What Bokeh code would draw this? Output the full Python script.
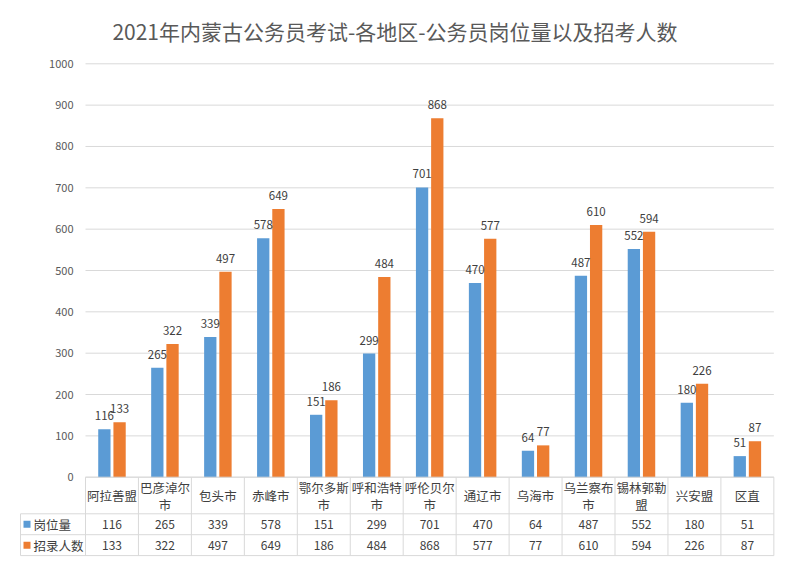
import numpy as np
from bokeh.plotting import figure
from bokeh.models import Range1d, ColumnDataSource
from bokeh.core.properties import value
from bokeh.embed import file_html
from bokeh.resources import INLINE

# ---------------- data ----------------
title_text = "2021年内蒙古公务员考试-各地区-公务员岗位量以及招考人数"
categories = ["阿拉善盟", "巴彦淖尔市", "包头市", "赤峰市", "鄂尔多斯市", "呼和浩特市",
              "呼伦贝尔市", "通辽市", "乌海市", "乌兰察布市", "锡林郭勒盟", "兴安盟", "区直"]
series_names = ["岗位量", "招录人数"]
posts = [116, 265, 339, 578, 151, 299, 701, 470, 64, 487, 552, 180, 51]
applicants = [133, 322, 497, 649, 186, 484, 868, 577, 77, 610, 594, 226, 87]
y_ticks = [0, 100, 200, 300, 400, 500, 600, 700, 800, 900, 1000]
y_tick_labels = [str(t) for t in y_ticks]

# ---------------- layout ----------------
W, H = 781, 557
PX_X = 52.95          # px per category
PX_Y = 0.4134         # px per value unit
X0_PX = 85            # x px of category 0 left edge
Y0_PX = 476.7         # y px of value 0

x_start = -X0_PX / PX_X
x_end = (W - X0_PX) / PX_X
y_end = Y0_PX / PX_Y
y_start = -(H - Y0_PX) / PX_Y

def dy(px):  # pixel distance below zero -> data units
    return -px / PX_Y

def dx(px):  # pixel distance right of category 0 -> data units
    return px / PX_X

BLUE = "#5b9bd5"
ORANGE = "#ed7d31"
GRID = "#d9d9d9"
TXT = "#404040"
CJK = value("Noto Sans CJK SC")

p = figure(width=W, height=H, x_range=Range1d(x_start, x_end), y_range=Range1d(y_start, y_end),
           output_backend="svg", toolbar_location=None, min_border=0,
           x_axis_type=None, y_axis_type=None)
p.grid.visible = False
p.outline_line_color = None
p.background_fill_color = "white"
p.border_fill_color = "white"

n = len(categories)
idx = np.arange(n) + 0.5
ncat = n

# gridlines
p.segment(x0=[0] * len(y_ticks), x1=[ncat] * len(y_ticks), y0=y_ticks, y1=y_ticks,
          line_color=GRID, line_width=1)

# y tick labels
p.text(x=[dx(73 - 85)] * len(y_ticks), y=y_ticks, text=y_tick_labels,
       text_align="right", text_baseline="middle", text_font=CJK,
       text_font_size="11px", text_color="#595959")

# bars
off = dx(7.6)
bw = dx(12.3)
src = ColumnDataSource(dict(xb=idx - off, xo=idx + off, posts=posts, applicants=applicants,
                            pl=[str(v) for v in posts], al=[str(v) for v in applicants]))
p.vbar(x="xb", top="posts", bottom=0, width=bw, source=src, fill_color=BLUE, line_color=None)
p.vbar(x="xo", top="applicants", bottom=0, width=bw, source=src, fill_color=ORANGE, line_color=None)

# data labels
p.text(x="xb", y="posts", text="pl", source=src, text_align="center", text_baseline="middle",
       y_offset=-13.5, text_font=CJK, text_font_size="11.5px", text_color=TXT)
p.text(x="xo", y="applicants", text="al", source=src, text_align="center", text_baseline="middle",
       y_offset=-13.5, text_font=CJK, text_font_size="11.5px", text_color=TXT)

# ---------------- data table ----------------
header_h, row_h = 36.6, 20.9
y_hdr_bot = dy(header_h)
y_r1_bot = dy(header_h + row_h)
y_r2_bot = dy(header_h + 2 * row_h)
x_left = dx(20 - 85)

# horizontal lines
p.segment(x0=[0, x_left, x_left, x_left], x1=[ncat] * 4,
          y0=[0, y_hdr_bot, y_r1_bot, y_r2_bot], y1=[0, y_hdr_bot, y_r1_bot, y_r2_bot],
          line_color=GRID, line_width=1)
# vertical lines
vx = list(range(ncat + 1))
p.segment(x0=vx, x1=vx, y0=[0] * len(vx), y1=[y_r2_bot] * len(vx), line_color=GRID, line_width=1)
p.segment(x0=[x_left], x1=[x_left], y0=[y_hdr_bot], y1=[y_r2_bot], line_color=GRID, line_width=1)

# header labels (wrap after 4 characters like the cell width)
hx, hy, ht = [], [], []
for i, c in enumerate(categories):
    if len(c) > 4:
        hx += [idx[i], idx[i]]
        hy += [dy(10.5), dy(27)]
        ht += [c[:4], c[4:]]
    else:
        hx.append(idx[i])
        hy.append(dy(18.5))
        ht.append(c)
p.text(x=hx, y=hy, text=ht, text_align="center", text_baseline="middle",
       text_font=CJK, text_font_size="12.5px", text_color=TXT)

# row values
r1y = dy(header_h + row_h / 2)
r2y = dy(header_h + row_h * 1.5)
p.text(x=idx, y=[r1y] * n, text=[str(v) for v in posts], text_align="center",
       text_baseline="middle", text_font=CJK, text_font_size="12px", text_color=TXT)
p.text(x=idx, y=[r2y] * n, text=[str(v) for v in applicants], text_align="center",
       text_baseline="middle", text_font=CJK, text_font_size="12px", text_color=TXT)

# row legend keys and names
p.scatter(x=[dx(26.5 - 85)] * 2, y=[r1y, r2y], marker="square", size=7,
          fill_color=[BLUE, ORANGE], line_color=None)
p.text(x=[dx(33 - 85)] * 2, y=[r1y, r2y], text=series_names, text_align="left",
       text_baseline="middle", text_font=CJK, text_font_size="12.5px", text_color=TXT)

# title
p.text(x=[394.5 / PX_X - X0_PX / PX_X], y=[(Y0_PX - 30) / PX_Y], text=[title_text],
       text_align="center", text_baseline="middle", text_font=CJK,
       text_font_size="21px", text_color="#595959")

open("out.html", "w").write(file_html(p, INLINE))
